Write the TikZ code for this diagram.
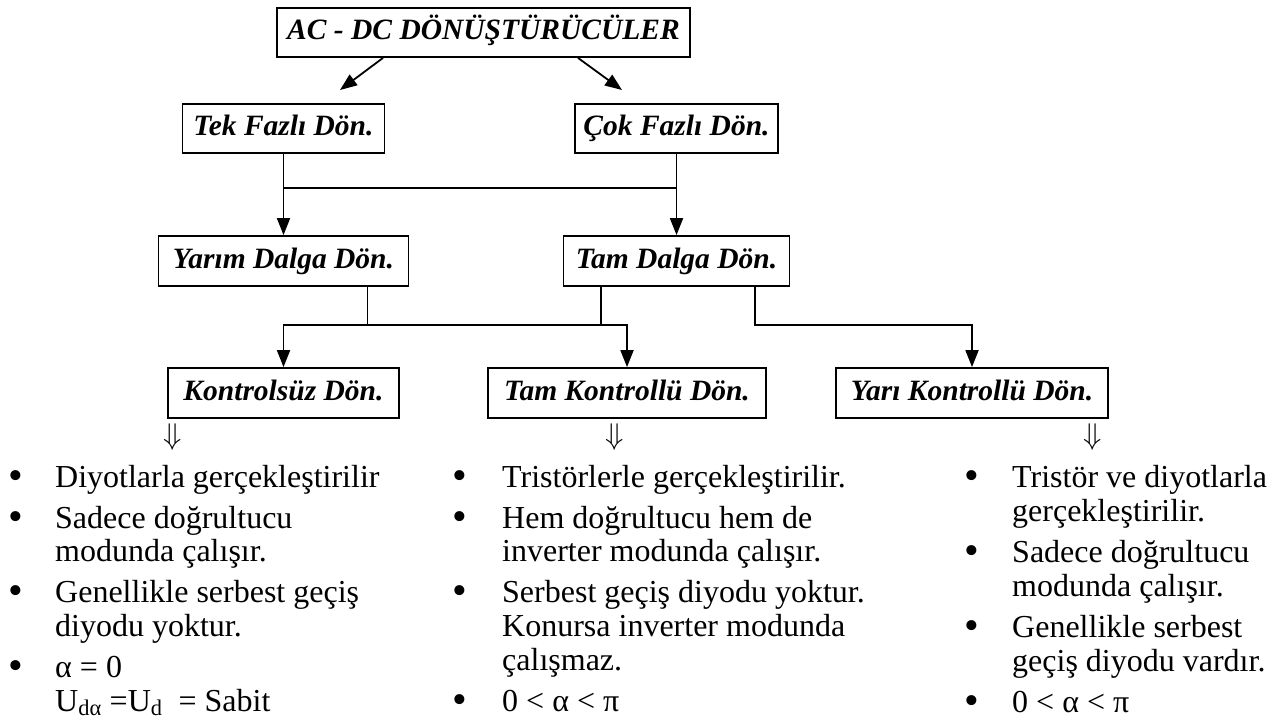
\RequirePackage{fix-cm}
\documentclass[tikz,border=0pt]{standalone}
\usepackage{fontspec}
\setmainfont{Liberation Serif}
\usetikzlibrary{arrows.meta}

\newcommand{\boxfont}{\fontsize{29.5}{32}\selectfont\bfseries\itshape}
\newcommand{\bodyfont}{\fontsize{32}{34}\selectfont}

\tikzset{
  kutu/.style={draw, line width=1.8pt, minimum height=49pt, inner sep=0pt,
    text height=21pt, text depth=7pt, font=\boxfont},
  conn/.style={line width=1.8pt, line cap=rect},
  arr/.style={line width=1.8pt, -{Triangle[length=17pt,width=13pt]}},
  txt/.style={anchor=base west, inner sep=0pt, font=\bodyfont},
  blt/.style={anchor=center, inner sep=0pt, font=\fontsize{42}{42}\selectfont},
  dn/.style={inner sep=0pt, font=\fontsize{30}{30}\selectfont}
}

\begin{document}
\begin{tikzpicture}[x=1pt,y=-1pt]
\fill[white] (0,0) rectangle (1282,724);
\useasboundingbox (0,0) rectangle (1282,724);

% converter class boxes
\node[kutu, minimum width=413pt] (top) at (483.5,32.5) {AC - DC DÖNÜŞTÜRÜCÜLER};
\node[kutu, minimum width=202pt] (tek) at (283.5,128.5) {Tek Fazlı Dön.};
\node[kutu, minimum width=203pt] (cok) at (676.5,128.5) {Çok Fazlı Dön.};
\node[kutu, minimum width=250pt, minimum height=50pt] (yarim) at (283.5,261) {Yarım Dalga Dön.};
\node[kutu, minimum width=226pt, minimum height=50pt] (tamd) at (676.5,261) {Tam Dalga Dön.};
\node[kutu, minimum width=231pt, minimum height=50pt] (kont) at (283.5,393) {Kontrolsüz Dön.};
\node[kutu, minimum width=278pt, minimum height=50pt] (tamk) at (627,393) {Tam Kontrollü Dön.};
\node[kutu, minimum width=272pt, minimum height=50pt] (yari) at (972,393) {Yarı Kontrollü Dön.};

% free ends and bus levels
\coordinate (t1) at (340,90);
\coordinate (t2) at (622,90);
\coordinate (bus1) at (0,188);
\coordinate (bus2) at (0,325);

% top level arrows
\draw[arr] ([xshift=-100.5pt]top.south) -- (t1);
\draw[arr] ([xshift=94.5pt]top.south) -- (t2);

% phase -> wave type
\draw[conn] (tek.south) -- (tek.south |- bus1) -- (cok.south |- bus1) -- (cok.south);
\draw[arr] (tek.south |- bus1) -- (yarim.north);
\draw[arr] (cok.south |- bus1) -- (tamd.north);

% wave type -> control type
\draw[conn] (kont.north |- bus2) -- (tamk.north |- bus2);
\draw[conn] ([xshift=84pt]yarim.south) -- ([xshift=84pt]yarim.south |- bus2);
\draw[conn] ([xshift=-75.5pt]tamd.south) -- ([xshift=-75.5pt]tamd.south |- bus2);
\draw[arr] (kont.north |- bus2) -- (kont.north);
\draw[arr] (tamk.north |- bus2) -- (tamk.north);
\draw[arr] ([xshift=78.5pt]tamd.south) |- (yari.north |- bus2) -- (yari.north);

% downward markers
\node[dn] (d1) at (173,437) {$\Downarrow$};
\node[dn] (d2) at (615,437) {$\Downarrow$};
\node[dn] (d3) at (1093,437) {$\Downarrow$};

% uncontrolled converters
\node[blt] (b11) at (16,480) {\textbullet};
\node[txt] (l11) at (55,487) {Diyotlarla gerçekleştirilir};
\node[blt] (b12) at (16,521) {\textbullet};
\node[txt] (l12) at (55,528) {Sadece doğrultucu};
\node[txt] (l13) at (55,561) {modunda çalışır.};
\node[blt] (b14) at (16,595) {\textbullet};
\node[txt] (l14) at (55,602) {Genellikle serbest geçiş};
\node[txt] (l15) at (55,636) {diyodu yoktur.};
\node[blt] (b16) at (16,670) {\textbullet};
\node[txt] (l16) at (55,677) {α = 0};
\node[txt] (l17) at (55,711) {U\textsubscript{dα} =U\textsubscript{d}\ \ = Sabit};

% fully controlled converters
\node[blt] (b21) at (460,480) {\textbullet};
\node[txt] (l21) at (502,487) {Tristörlerle gerçekleştirilir.};
\node[blt] (b22) at (460,521) {\textbullet};
\node[txt] (l22) at (502,528) {Hem doğrultucu hem de};
\node[txt] (l23) at (502,561) {inverter modunda çalışır.};
\node[blt] (b24) at (460,595) {\textbullet};
\node[txt] (l24) at (502,602) {Serbest geçiş diyodu yoktur.};
\node[txt] (l25) at (502,636) {Konursa inverter modunda};
\node[txt] (l26) at (502,670) {çalışmaz.};
\node[blt] (b27) at (460,704) {\textbullet};
\node[txt] (l27) at (502,711) {0 < α < π};

% half controlled converters
\node[blt] (b31) at (972,480) {\textbullet};
\node[txt] (l31) at (1012,487) {Tristör ve diyotlarla};
\node[txt] (l32) at (1012,521) {gerçekleştirilir.};
\node[blt] (b33) at (972,555) {\textbullet};
\node[txt] (l33) at (1012,562) {Sadece doğrultucu};
\node[txt] (l34) at (1012,596) {modunda çalışır.};
\node[blt] (b35) at (972,630) {\textbullet};
\node[txt] (l35) at (1012,637) {Genellikle serbest};
\node[txt] (l36) at (1012,671) {geçiş diyodu vardır.};
\node[blt] (b37) at (972,705) {\textbullet};
\node[txt] (l37) at (1012,712) {0 < α < π};
\end{tikzpicture}
\end{document}
